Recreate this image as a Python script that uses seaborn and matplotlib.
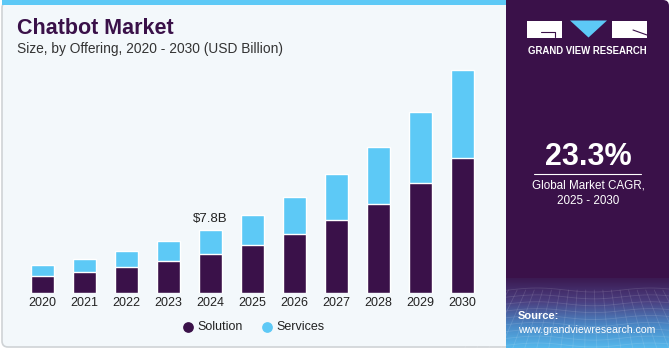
import numpy as np
import pandas as pd
import matplotlib
matplotlib.use('Agg')
import matplotlib.pyplot as plt
import seaborn as sns
from matplotlib.patches import FancyBboxPatch, Rectangle, Polygon
from matplotlib.colors import LinearSegmentedColormap

# --- data ---
years = ['2020', '2021', '2022', '2023', '2024', '2025', '2026', '2027', '2028', '2029', '2030']
solution = [2.12, 2.61, 3.19, 3.96, 4.82, 5.93, 7.28, 8.96, 10.99, 13.53, 16.64]
services = [1.32, 1.60, 2.00, 2.42, 2.98, 3.68, 4.57, 5.64, 7.00, 8.68, 10.79]
label_year = '2024'
label_text = '$7.8B'
cagr_text = '23.3%'

PURPLE = '#3a1149'
BLUE = '#5dc9f6'
PANEL_BG = '#f3f8fb'

sns.set_style('white')
plt.rcParams['font.family'] = ['Liberation Sans', 'DejaVu Sans']

W, H = 671, 350
fig = plt.figure(figsize=(W / 100, H / 100), dpi=100)
fig.patch.set_facecolor('white')

# background / decoration axes in pixel coords
bg = fig.add_axes([0, 0, 1, 1], zorder=0)
bg.set_xlim(0, W)
bg.set_ylim(H, 0)
bg.axis('off')

bg.add_patch(FancyBboxPatch((2, 2), 520, 345, boxstyle='round,pad=0,rounding_size=6',
                            facecolor=PANEL_BG, edgecolor='#cfd3d6', linewidth=1.2))
bg.add_patch(Rectangle((2, 0), 504, 5, facecolor=BLUE, edgecolor='none'))

# right dark panel
bg.add_patch(FancyBboxPatch((506, 0), 163, 348, boxstyle='round,pad=0,rounding_size=6',
                            facecolor=PURPLE, edgecolor='none'))
bg.add_patch(Rectangle((506, 0), 20, 348, facecolor=PURPLE, edgecolor='none'))
# bottom gradient with faint grid
grad = np.linspace(0, 1, 100).reshape(-1, 1)
gcmap = LinearSegmentedColormap.from_list('g', ['#3b1a52', '#4b3f80', '#4a86c4', '#55b8ec'])
bg.imshow(grad, extent=(506, 669, 348, 278), cmap=gcmap, aspect='auto', zorder=1)
for yy in np.linspace(290, 345, 9):
    xs = np.linspace(506, 669, 40)
    bg.plot(xs, yy + 2 * np.sin(xs / 18.0), color='white', alpha=0.12, lw=0.6, zorder=2)
for xx in np.linspace(500, 680, 22):
    bg.plot([xx, xx + (xx - 588) * 0.4], [290, 348], color='white', alpha=0.12, lw=0.6, zorder=2)

# logo
bg.add_patch(Rectangle((527, 20.5), 35, 17, facecolor='white', edgecolor='none', zorder=3))
bg.plot([541, 555, 555], [32, 32, 37], color=PURPLE, lw=0.8, zorder=4)
bg.add_patch(Polygon([[570, 20.5], [607, 20.5], [588.5, 37.5]], closed=True,
                     facecolor=BLUE, edgecolor='none', zorder=3))
bg.add_patch(Rectangle((612, 20.5), 35, 17, facecolor='white', edgecolor='none', zorder=3))
bg.plot([633, 647], [30, 35], color=PURPLE, lw=0.8, zorder=4)
bg.text(587, 50.5, 'GRAND VIEW RESEARCH', color='white', fontsize=6.9, fontweight='bold',
        ha='center', va='center', zorder=4)

bg.text(588, 157, cagr_text, color='white', fontsize=22, fontweight='bold',
        ha='center', va='center', zorder=4)
bg.plot([534, 641], [173.5, 173.5], color='white', lw=0.8, zorder=4)
bg.text(588, 186, 'Global Market CAGR,', color='white', fontsize=8.4, ha='center', va='center', zorder=4)
bg.text(588, 201, '2025 - 2030', color='white', fontsize=8.4, ha='center', va='center', zorder=4)
bg.text(518, 316, 'Source:', color='white', fontsize=8, fontweight='bold', ha='left', va='center', zorder=4)
bg.text(518, 330, 'www.grandviewresearch.com', color='white', fontsize=7.6, ha='left', va='center', zorder=4)

# titles
bg.text(17, 28, 'Chatbot Market', color=PURPLE, fontsize=15.5, fontweight='bold', ha='left', va='center')
bg.text(17, 49, 'Size, by Offering, 2020 - 2030 (USD Billion)', color='#333333', fontsize=9.9,
        ha='left', va='center')

# --- bar chart ---
df = pd.DataFrame({'year': years, 'Solution': solution, 'Services': services})
df['total'] = df['Solution'] + df['Services']

left_px, right_px = 17.3, 487.7
base_px, top_px = 293.3, 60.0
ax = fig.add_axes([left_px / W, (H - base_px) / H, (right_px - left_px) / W, (base_px - top_px) / H], zorder=2)
ax.patch.set_alpha(0)

sns.barplot(data=df, x='year', y='total', color=BLUE, width=0.55, saturation=1, ax=ax)
sns.barplot(data=df, x='year', y='Solution', color=PURPLE, width=0.55, saturation=1, ax=ax)

ax.set_xlim(-0.6, 10.6)
ax.set_ylim(0, (base_px - top_px) / 8.15)
ax.set_xlabel('')
ax.set_ylabel('')
ax.set_yticks([])
ax.tick_params(axis='x', length=0, labelsize=9, colors='#222222', pad=3)
sns.despine(ax=ax, left=True, bottom=True)

i = years.index(label_year)
ax.text(i, df['total'][i] + 0.6, label_text, ha='center', va='bottom', fontsize=9.5, color='#222222')

# legend
bg.scatter([188], [327], s=45, color=PURPLE, zorder=4)
bg.text(197, 327, 'Solution', fontsize=9, color='#222222', va='center', ha='left')
bg.scatter([267], [327], s=45, color=BLUE, zorder=4)
bg.text(276, 327, 'Services', fontsize=9, color='#222222', va='center', ha='left')

fig.savefig('out.png', dpi=100, facecolor=fig.get_facecolor())
